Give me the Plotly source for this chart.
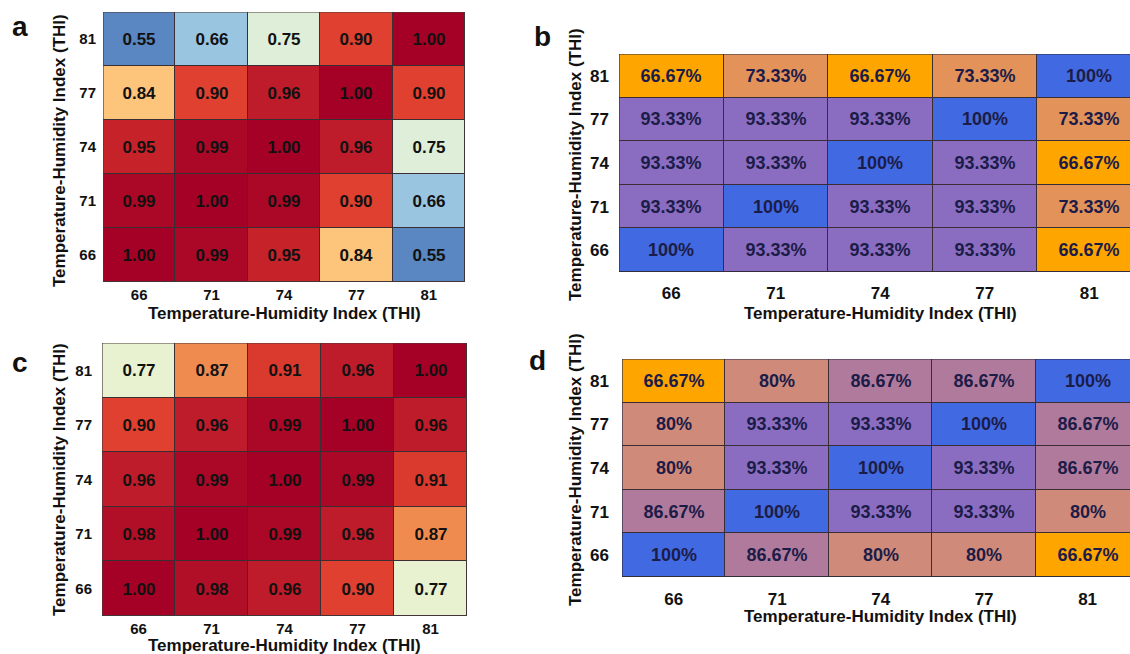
import plotly.graph_objects as go

# ---------------- data ----------------
thi_labels = ["66", "71", "74", "77", "81"]

# rows listed from bottom (THI 66) to top (THI 81)
corr_a = [
    [1.00, 0.99, 0.95, 0.84, 0.55],
    [0.99, 1.00, 0.99, 0.90, 0.66],
    [0.95, 0.99, 1.00, 0.96, 0.75],
    [0.84, 0.90, 0.96, 1.00, 0.90],
    [0.55, 0.66, 0.75, 0.90, 1.00],
]
corr_c = [
    [1.00, 0.98, 0.96, 0.90, 0.77],
    [0.98, 1.00, 0.99, 0.96, 0.87],
    [0.96, 0.99, 1.00, 0.99, 0.91],
    [0.90, 0.96, 0.99, 1.00, 0.96],
    [0.77, 0.87, 0.91, 0.96, 1.00],
]
pct_b = [
    [100, 93.33, 93.33, 93.33, 66.67],
    [93.33, 100, 93.33, 93.33, 73.33],
    [93.33, 93.33, 100, 93.33, 66.67],
    [93.33, 93.33, 93.33, 100, 73.33],
    [66.67, 73.33, 66.67, 73.33, 100],
]
pct_d = [
    [100, 86.67, 80, 80, 66.67],
    [86.67, 100, 93.33, 93.33, 80],
    [80, 93.33, 100, 93.33, 86.67],
    [80, 93.33, 93.33, 100, 86.67],
    [66.67, 80, 86.67, 86.67, 100],
]

axis_title = "Temperature-Humidity Index (THI)"
FONT = "Liberation Sans, Arial, sans-serif"

W, H = 1130, 654

# ---------------- colour scales ----------------
corr_min, corr_max = 0.55, 1.00
corr_stops = [
    (0.55, "#5a87c1"), (0.66, "#9ac5e1"), (0.75, "#dfeed9"), (0.77, "#e8f2d0"),
    (0.84, "#fdc47c"), (0.87, "#f08b50"), (0.90, "#df402f"), (0.95, "#c6222a"),
    (0.96, "#be1c2a"), (0.99, "#aa0826"), (1.00, "#a50026"),
]
corr_scale = [[(v - corr_min) / (corr_max - corr_min), c] for v, c in corr_stops]

pct_min, pct_max = 66.67, 100
pct_stops = [
    (66.67, "#ffa500"), (73.33, "#e3925a"), (80, "#cf8a7a"),
    (86.67, "#b07a9c"), (93.33, "#8a6dc0"), (100, "#4169e1"),
]
pct_scale = [[(v - pct_min) / (pct_max - pct_min), c] for v, c in pct_stops]


def px_dom_x(a, b):
    return [a / W, min(b / W, 1.0)]


def px_dom_y(top, bottom):
    return [1 - bottom / H, 1 - top / H]


fig = go.Figure()

idx = list(range(len(thi_labels)))

panels = [
    dict(ax="", z=corr_a, kind="corr", x=(103, 465), y=(12, 282), xend=4.5,
         xs=2, ys=6, lab="a", lab_xy=(20, 27),
         xt_y=313, yt_x=59, yt_y=151),
    dict(ax="2", z=pct_b, kind="pct", x=(619, 1130), y=(54, 272), xend=4.39,
         xs=9, ys=9, lab="b", lab_xy=(542, 37),
         xt_y=313, yt_x=576, yt_y=165),
    dict(ax="3", z=corr_c, kind="corr", x=(102, 467), y=(343, 616), xend=4.5,
         xs=2, ys=9, lab="c", lab_xy=(20, 362),
         xt_y=645, yt_x=59, yt_y=480),
    dict(ax="4", z=pct_d, kind="pct", x=(622, 1130), y=(359, 577), xend=4.41,
         xs=10, ys=12, lab="d", lab_xy=(537, 360),
         xt_y=616, yt_x=576, yt_y=470),
]

annotations = []
shapes = []
for p in panels:
    xa = "x" + p["ax"]
    ya = "y" + p["ax"]
    if p["kind"] == "corr":
        text = [[f"{v:.2f}" for v in row] for row in p["z"]]
        fig.add_trace(go.Heatmap(
            z=p["z"], x=idx, y=idx, xaxis=xa, yaxis=ya,
            colorscale=corr_scale, zmin=corr_min, zmax=corr_max,
            showscale=False, xgap=1, ygap=1,
            text=text, texttemplate="%{text}",
            textfont=dict(family=FONT, size=17, color="#111111", weight="bold"),
            hoverinfo="skip",
        ))
        tick_font = dict(family=FONT, size=15, color="#111111", weight="bold")
        frame_col = "#4a3a3a"
    else:
        text = [[f"{v:g}%" for v in row] for row in p["z"]]
        fig.add_trace(go.Heatmap(
            z=p["z"], x=idx, y=idx, xaxis=xa, yaxis=ya,
            colorscale=pct_scale, zmin=pct_min, zmax=pct_max,
            showscale=False, xgap=1, ygap=1,
            text=text, texttemplate="%{text}",
            textfont=dict(family=FONT, size=18, color="#1c1c48", weight="bold"),
            hoverinfo="skip",
        ))
        tick_font = dict(family=FONT, size=17, color="#111111", weight="bold")
        frame_col = "#2a2a44"

    xkey = "xaxis" + p["ax"]
    ykey = "yaxis" + p["ax"]
    fig.layout[xkey] = dict(
        domain=px_dom_x(*p["x"]), range=[-0.5, p["xend"]], anchor=ya,
        tickvals=idx, ticktext=thi_labels, tickfont=tick_font,
        showgrid=False, zeroline=False, ticks="", showline=False,
        ticklabelstandoff=p["xs"], fixedrange=True,
    )
    fig.layout[ykey] = dict(
        domain=px_dom_y(*p["y"]), range=[-0.5, 4.5], anchor=xa,
        tickvals=idx, ticktext=thi_labels, tickfont=tick_font,
        showgrid=False, zeroline=False, ticks="", showline=False,
        ticklabelstandoff=p["ys"], fixedrange=True,
    )
    shapes.append(dict(type="rect", xref=xa, yref=ya, x0=-0.5, x1=4.5,
                       y0=-0.5, y1=4.5, line=dict(color=frame_col, width=1.2),
                       fillcolor="rgba(0,0,0,0)", layer="above"))

    # centre of the full 5-column grid (may extend past the page edge)
    col_w = (p["x"][1] - p["x"][0]) / (p["xend"] + 0.5)
    cx = p["x"][0] + 2.5 * col_w
    annotations.append(dict(
        text=axis_title, xref="paper", yref="paper",
        x=cx / W, y=1 - p["xt_y"] / H, xanchor="center", yanchor="middle",
        showarrow=False, font=dict(family=FONT, size=17, color="#111111", weight="bold"),
    ))
    annotations.append(dict(
        text=axis_title, xref="paper", yref="paper", textangle=-90,
        x=p["yt_x"] / W, y=1 - p["yt_y"] / H, xanchor="center", yanchor="middle",
        showarrow=False, font=dict(family=FONT, size=17, color="#111111", weight="bold"),
    ))
    annotations.append(dict(
        text=p["lab"], xref="paper", yref="paper",
        x=p["lab_xy"][0] / W, y=1 - p["lab_xy"][1] / H,
        xanchor="center", yanchor="middle", showarrow=False,
        font=dict(family=FONT, size=28, color="#111111", weight="bold"),
    ))

fig.update_layout(
    width=W, height=H, margin=dict(l=0, r=0, t=0, b=0),
    paper_bgcolor="white", plot_bgcolor="#3a2e34",
    annotations=annotations, shapes=shapes, showlegend=False,
    font=dict(family=FONT),
)

fig.write_html("out.html")
